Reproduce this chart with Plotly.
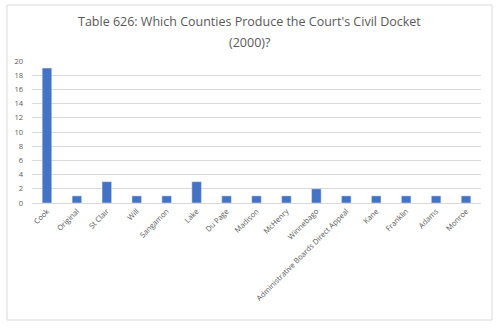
import plotly.graph_objects as go

categories = ["Cook", "Original", "St Clair", "Will", "Sangamon", "Lake", "Du Page",
              "Madison", "McHenry", "Winnebago", "Administrative Boards Direct Appeal",
              "Kane", "Franklin", "Adams", "Monroe"]
values = [19, 1, 3, 1, 1, 3, 1, 1, 1, 2, 1, 1, 1, 1, 1]
y_ticks = [0, 2, 4, 6, 8, 10, 12, 14, 16, 18, 20]
title_lines = ["Table 626: Which Counties Produce the Court's Civil Docket", "(2000)?"]

W, H = 500, 328
L, R, T, B = 32, 19, 61, 125
pw, ph = W - L - R, H - T - B

fig = go.Figure(go.Bar(x=categories, y=values, marker_color="#4472C4", width=0.32))

def px2x(x):
    return (x - L) / pw

def px2y(y):
    return (H - B - y) / ph

fig.add_shape(type="rect", xref="paper", yref="paper",
              x0=px2x(7), x1=px2x(492), y0=px2y(320), y1=px2y(5),
              line=dict(color="#d9d9d9", width=1), fillcolor="rgba(0,0,0,0)", layer="below")

for line, ypx in zip(title_lines, [22, 43]):
    fig.add_annotation(xref="paper", yref="paper", x=0.5 * (px2x(7) + px2x(492)), y=px2y(ypx),
                       text=line, showarrow=False,
                       font=dict(family="Open Sans", size=12.5, color="#595959"),
                       xanchor="center", yanchor="middle", align="center")

fig.update_layout(
    width=W, height=H, margin=dict(l=L, r=R, t=T, b=B),
    paper_bgcolor="white", plot_bgcolor="white", showlegend=False,
    font=dict(family="Open Sans", color="#595959"),
    xaxis=dict(tickangle=-45, tickfont=dict(size=7.5, color="#595959"),
               showline=True, linecolor="#d9d9d9", ticks="", showgrid=False),
    yaxis=dict(range=[0, 20], tickvals=y_ticks, tickfont=dict(size=7.5, color="#595959"),
               gridcolor="#d9d9d9", gridwidth=1, zeroline=False, ticks="", showline=False,
               ticklabelstandoff=8),
)

fig.write_html("out.html")
